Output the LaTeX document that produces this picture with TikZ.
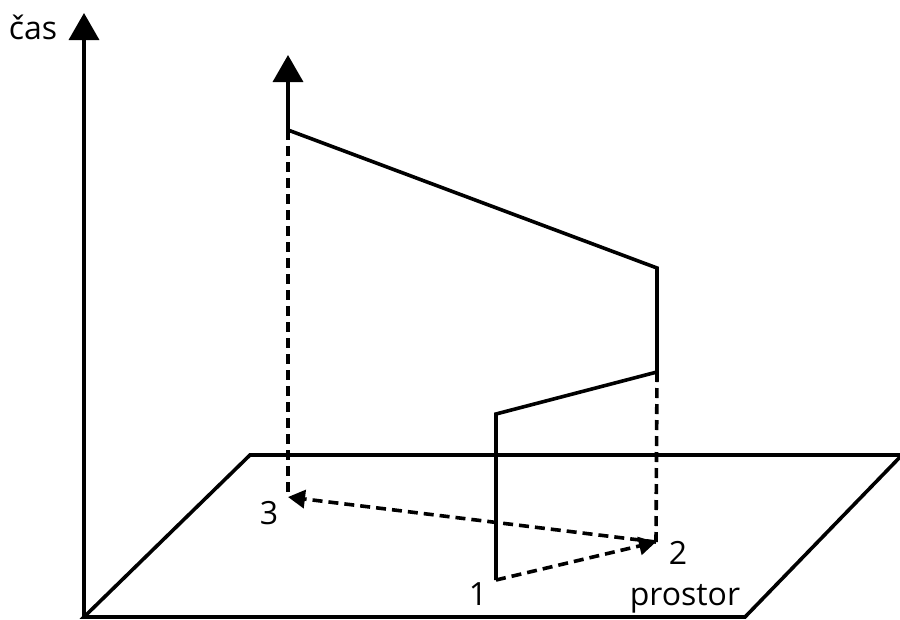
\documentclass[tikz,border=0pt]{standalone}
\usepackage{fontspec}
\setmainfont{Open Sans}
\usetikzlibrary{arrows.meta}
\begin{document}
\begin{tikzpicture}[x=1pt, y=-1pt, line width=3.6pt, line join=miter,
	bigarrow/.style={-{Triangle[width=30pt,length=27pt]}},
	smallarrow/.style={-{Triangle[width=18pt,length=17pt]}},
	proj/.style={dash pattern=on 10pt off 6pt},
	lbl/.style={font=\fontsize{32}{38}\selectfont, inner sep=0pt, anchor=base west}]
	\useasboundingbox (0,0) rectangle (900,619);
	% Osa casu
	\coordinate (O) at (84,617);
	\coordinate (T) at (84,13);
	\draw[bigarrow] (O) -- (T);
	\node[lbl] (cas) at (7,39) {čas};
	% Rovina prostoru
	\coordinate (B) at (745,617);
	\coordinate (C) at (902,455);
	\coordinate (D) at (250,455);
	\draw (O) -- (B) -- (C) -- (D) -- cycle;
	% Svetocara
	\coordinate (p1) at (496,580);
	\coordinate (a) at (496,414);
	\coordinate (b) at (657,372);
	\coordinate (c) at (657,268);
	\coordinate (d) at (288,130);
	\coordinate (e) at (288,55);
	\draw[bigarrow] (p1) -- (a) -- (b) -- (c) -- (d) -- (e);
	% Prumety do prostoru
	\coordinate (p2) at (656,542);
	\coordinate (p3) at (288,497);
	\draw[proj] (b) -- (p2);
	\draw[proj] (d) -- (p3);
	\draw[proj, smallarrow] (p1) -- (p2);
	\draw[proj, smallarrow] (p2) -- (p3);
	% Popisky
	\node[lbl] (l1) at (467,605) {1};
	\node[lbl] (l2) at (667,564) {2};
	\node[lbl] (l3) at (258,524) {3};
	\node[lbl] (prostor) at (628,605) {prostor};
\end{tikzpicture}
\end{document}
